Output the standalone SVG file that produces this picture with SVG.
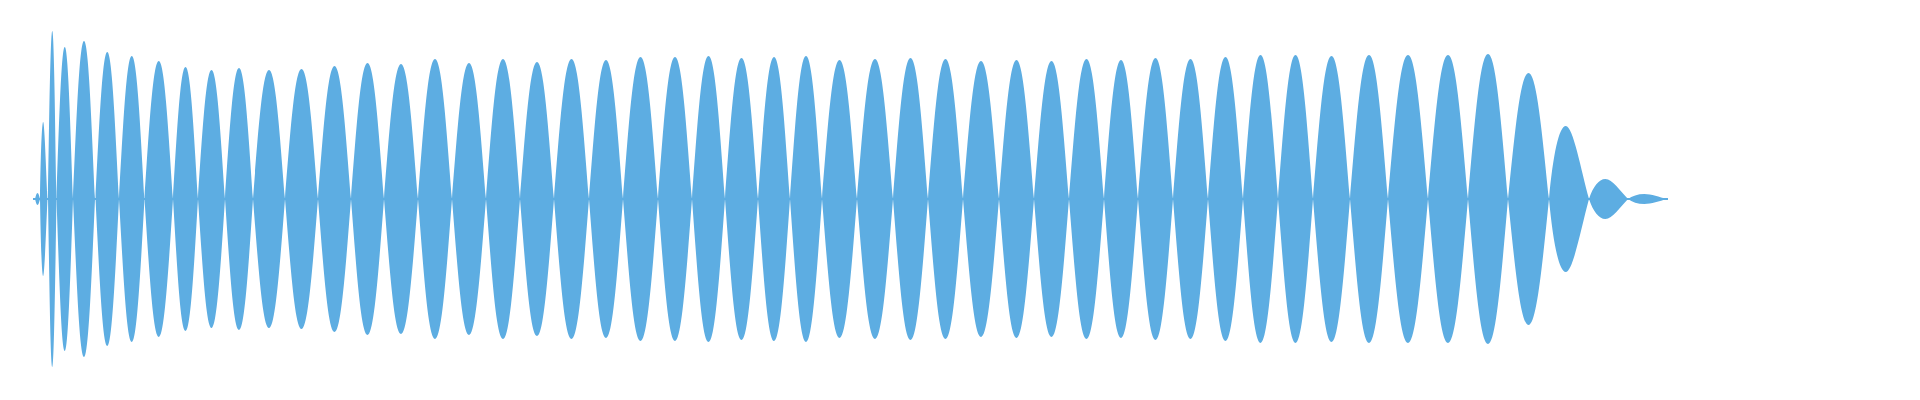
<svg xmlns="http://www.w3.org/2000/svg" xmlns:xlink="http://www.w3.org/1999/xlink" width="1920" height="400" viewBox="0 0 1920 400">
<defs>
<style>.w{fill:#5dade2}</style>
<path id="L" d="M0,0 C0.165,-0.52 0.3,-1 0.5,-1 C0.7,-1 0.835,-0.52 1,0 C0.835,0.52 0.7,1 0.5,1 C0.3,1 0.165,0.52 0,0Z"/>
<path id="S" d="M0,0 C0.1,-0.6 0.25,-1 0.42,-1 C0.6,-1 0.8,-0.4 1,0 C0.8,0.4 0.6,1 0.42,1 C0.25,1 0.1,0.6 0,0Z"/>
</defs>
<rect width="1920" height="400" fill="#ffffff"/>
<g id="waveform" class="w">
<rect x="33" y="198" width="1635" height="2"/>
<use xlink:href="#L" transform="translate(35,199) scale(5,6)"/>
<use xlink:href="#S" transform="translate(40,199) scale(7.5,77)"/>
<use xlink:href="#L" transform="translate(48,199) scale(8.5,168)"/>
<use xlink:href="#L" transform="translate(56.5,199) scale(16.5,152)"/>
<use xlink:href="#L" transform="translate(73,199) scale(22,158)"/>
<use xlink:href="#L" transform="translate(95.5,199) scale(23.5,147)"/>
<use xlink:href="#L" transform="translate(119,199) scale(25.5,143)"/>
<use xlink:href="#L" transform="translate(144.5,199) scale(28.5,138)"/>
<use xlink:href="#L" transform="translate(173,199) scale(25,132)"/>
<use xlink:href="#L" transform="translate(198,199) scale(27,129)"/>
<use xlink:href="#L" transform="translate(225,199) scale(28,131)"/>
<use xlink:href="#L" transform="translate(253,199) scale(32,129)"/>
<use xlink:href="#L" transform="translate(285,199) scale(33,130)"/>
<use xlink:href="#L" transform="translate(318,199) scale(33,133)"/>
<use xlink:href="#L" transform="translate(351,199) scale(33,136)"/>
<use xlink:href="#L" transform="translate(384,199) scale(34,135)"/>
<use xlink:href="#L" transform="translate(418,199) scale(34,140)"/>
<use xlink:href="#L" transform="translate(452,199) scale(34,136)"/>
<use xlink:href="#L" transform="translate(486,199) scale(34,140)"/>
<use xlink:href="#L" transform="translate(520,199) scale(34,137)"/>
<use xlink:href="#L" transform="translate(554,199) scale(35,140)"/>
<use xlink:href="#L" transform="translate(589,199) scale(34,139)"/>
<use xlink:href="#L" transform="translate(623,199) scale(35,142)"/>
<use xlink:href="#L" transform="translate(658,199) scale(34,142)"/>
<use xlink:href="#L" transform="translate(692,199) scale(33,143)"/>
<use xlink:href="#L" transform="translate(725,199) scale(33,141)"/>
<use xlink:href="#L" transform="translate(758,199) scale(32,142)"/>
<use xlink:href="#L" transform="translate(790,199) scale(32,143)"/>
<use xlink:href="#L" transform="translate(822,199) scale(35,139)"/>
<use xlink:href="#L" transform="translate(857,199) scale(36,140)"/>
<use xlink:href="#L" transform="translate(893,199) scale(35,141)"/>
<use xlink:href="#L" transform="translate(928,199) scale(35,140)"/>
<use xlink:href="#L" transform="translate(963,199) scale(36,138)"/>
<use xlink:href="#L" transform="translate(999,199) scale(35,139)"/>
<use xlink:href="#L" transform="translate(1034,199) scale(35,138)"/>
<use xlink:href="#L" transform="translate(1069,199) scale(35,140)"/>
<use xlink:href="#L" transform="translate(1104,199) scale(34,139)"/>
<use xlink:href="#L" transform="translate(1138,199) scale(35,141)"/>
<use xlink:href="#L" transform="translate(1173,199) scale(35,140)"/>
<use xlink:href="#L" transform="translate(1208,199) scale(35,142)"/>
<use xlink:href="#L" transform="translate(1243,199) scale(35,144)"/>
<use xlink:href="#L" transform="translate(1278,199) scale(35,144)"/>
<use xlink:href="#L" transform="translate(1313,199) scale(37,143)"/>
<use xlink:href="#L" transform="translate(1350,199) scale(38,144)"/>
<use xlink:href="#L" transform="translate(1388,199) scale(40,144)"/>
<use xlink:href="#L" transform="translate(1428,199) scale(40,144)"/>
<use xlink:href="#L" transform="translate(1468,199) scale(40,145)"/>
<use xlink:href="#L" transform="translate(1508,199) scale(41,126)"/>
<use xlink:href="#S" transform="translate(1549,199) scale(40,73)"/>
<use xlink:href="#S" transform="translate(1589,199) scale(39,20)"/>
<use xlink:href="#S" transform="translate(1628,199) scale(39,5)"/>
</g>
</svg>
